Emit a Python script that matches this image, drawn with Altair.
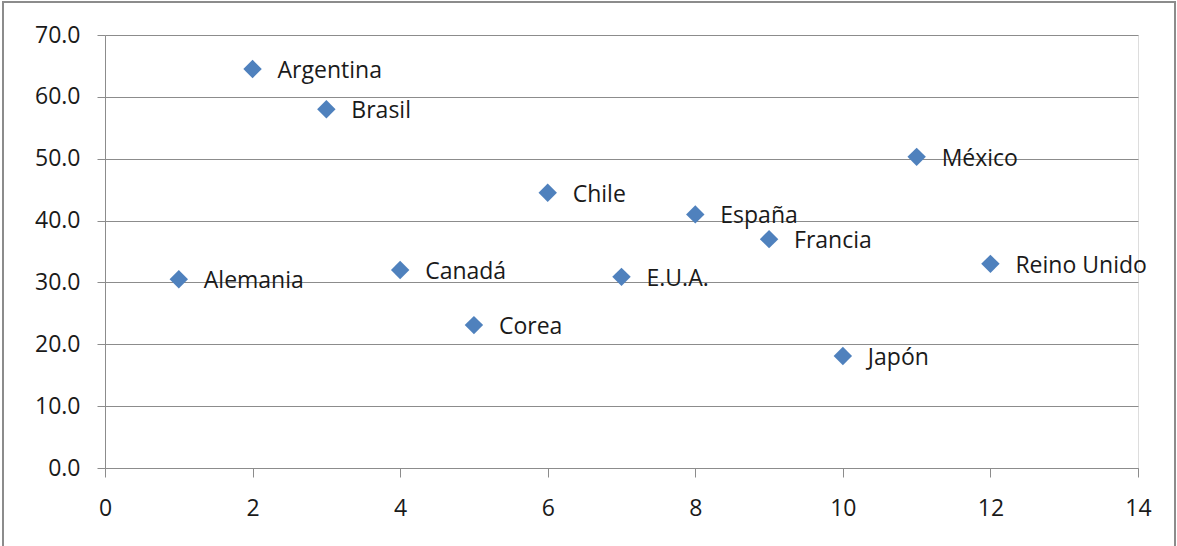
import altair as alt
import pandas as pd

countries = ["Alemania", "Argentina", "Brasil", "Canadá", "Corea", "Chile",
             "E.U.A.", "España", "Francia", "Japón", "México", "Reino Unido"]
xs = [1, 2, 3, 4, 5, 6, 7, 8, 9, 10, 11, 12]
ys = [30.5, 64.5, 58.0, 32.0, 23.1, 44.5, 30.9, 41.0, 37.0, 18.1, 50.3, 33.0]
y_ticks = [0, 10, 20, 30, 40, 50, 60, 70]
x_ticks = [0, 2, 4, 6, 8, 10, 12, 14]

df = pd.DataFrame({"pais": countries, "x": xs, "y": ys})

FONT = "Open Sans"
W, H = 1033, 433

xenc = alt.X("x:Q", scale=alt.Scale(domain=[0, 14], nice=False, zero=False),
             axis=alt.Axis(values=x_ticks, title=None, grid=False, tickSize=9,
                           format="d",
                           labelPadding=20, labelFontSize=23, labelFont=FONT,
                           labelColor="#1a1a1a", domainColor="#8c8c8c",
                           tickColor="#8c8c8c", labelFlush=False))
yenc = alt.Y("y:Q", scale=alt.Scale(domain=[0, 70], nice=False),
             axis=alt.Axis(values=y_ticks, title=None, format=".1f", grid=True,
                           gridColor="#8c8c8c", tickSize=8, labelPadding=17,
                           labelFontSize=23, labelFont=FONT, labelColor="#1a1a1a",
                           domainColor="#8c8c8c", tickColor="#8c8c8c"))

points = alt.Chart(df).mark_point(shape="diamond", filled=True, size=340,
                                  color="#4F81BD", opacity=1).encode(x=xenc, y=yenc)

labels = alt.Chart(df).mark_text(align="left", baseline="middle", dx=25, dy=2,
                                 fontSize=23, font=FONT, color="#1a1a1a").encode(
    x="x:Q", y="y:Q", text="pais:N")

frame = alt.Chart(pd.DataFrame({"a": [0]})).mark_rect(
    fill=None, stroke="#8c8c8c", strokeWidth=2, clip=False).encode(
    x=alt.value(-102), x2=alt.value(1070), y=alt.value(-33), y2=alt.value(110 + H))

chart = alt.layer(frame, points, labels).properties(
    width=W, height=H,
    autosize=alt.AutoSizeParams(type="none"),
    padding={"left": 105, "top": 35, "right": 39, "bottom": 78},
).configure_view(stroke=None).configure(background="white")

chart.save("out.html", embed_options={"renderer": "svg", "actions": False})
